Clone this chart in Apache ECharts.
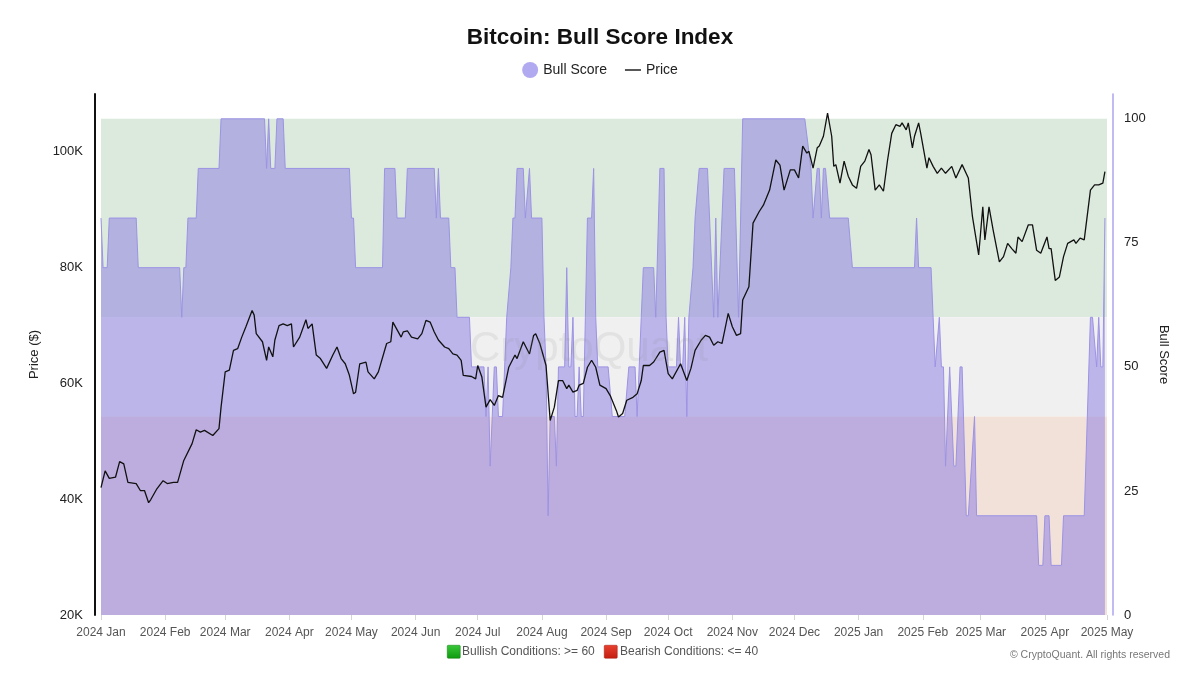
<!DOCTYPE html>
<html><head><meta charset="utf-8">
<script src="https://cdn.jsdelivr.net/npm/echarts@6/dist/echarts.min.js"></script>
<style>html,body{margin:0;padding:0;background:#fff}#c{width:1200px;height:675px}</style>
</head><body><div id="c"></div>
<script>
// ---- data (price in thousand USD) ----
const priceDates = [
'2024-01-01','2024-01-03','2024-01-05','2024-01-08','2024-01-10','2024-01-12','2024-01-14','2024-01-18','2024-01-20','2024-01-22','2024-01-24','2024-01-25','2024-01-28','2024-01-31',
'2024-02-02','2024-02-05','2024-02-07','2024-02-10','2024-02-14','2024-02-16','2024-02-18','2024-02-20','2024-02-24','2024-02-27','2024-02-28',
'2024-03-01','2024-03-03','2024-03-05','2024-03-07','2024-03-09','2024-03-11','2024-03-14','2024-03-15','2024-03-16','2024-03-19','2024-03-21','2024-03-22','2024-03-24','2024-03-25','2024-03-27','2024-03-29','2024-03-31',
'2024-04-02','2024-04-03','2024-04-06','2024-04-09','2024-04-10','2024-04-12','2024-04-14','2024-04-16','2024-04-19','2024-04-22','2024-04-24','2024-04-26','2024-04-28','2024-04-30',
'2024-05-02','2024-05-03','2024-05-05','2024-05-08','2024-05-09','2024-05-12','2024-05-14','2024-05-17','2024-05-18','2024-05-20','2024-05-21','2024-05-25','2024-05-26','2024-05-28','2024-05-30',
'2024-06-02','2024-06-04','2024-06-06','2024-06-08','2024-06-10','2024-06-12','2024-06-15','2024-06-17','2024-06-19','2024-06-21','2024-06-23','2024-06-24','2024-06-28','2024-06-30',
'2024-07-01','2024-07-03','2024-07-05','2024-07-07','2024-07-09','2024-07-11','2024-07-13','2024-07-16','2024-07-19','2024-07-20','2024-07-23','2024-07-26','2024-07-28','2024-07-29','2024-07-31',
'2024-08-03','2024-08-05','2024-08-07','2024-08-09','2024-08-11','2024-08-13','2024-08-14','2024-08-16','2024-08-18','2024-08-19','2024-08-21','2024-08-23','2024-08-25','2024-08-27','2024-08-29',
'2024-09-01','2024-09-03','2024-09-06','2024-09-07','2024-09-09','2024-09-11','2024-09-14','2024-09-16','2024-09-18','2024-09-19','2024-09-22','2024-09-24','2024-09-27','2024-09-29',
'2024-10-01','2024-10-03','2024-10-07','2024-10-10','2024-10-12','2024-10-14','2024-10-17','2024-10-19','2024-10-21','2024-10-23','2024-10-25','2024-10-27','2024-10-28','2024-10-30',
'2024-11-01','2024-11-03','2024-11-05','2024-11-06','2024-11-09','2024-11-11','2024-11-14','2024-11-16','2024-11-19','2024-11-22','2024-11-24','2024-11-26','2024-11-29',
'2024-12-01','2024-12-03','2024-12-05','2024-12-07','2024-12-08','2024-12-10','2024-12-12','2024-12-13','2024-12-15','2024-12-17','2024-12-19','2024-12-20','2024-12-21','2024-12-23','2024-12-25','2024-12-27','2024-12-29','2024-12-31',
'2025-01-02','2025-01-04','2025-01-06','2025-01-07','2025-01-09','2025-01-11','2025-01-13','2025-01-15','2025-01-17','2025-01-19','2025-01-21','2025-01-22','2025-01-24','2025-01-25','2025-01-27','2025-01-28','2025-01-30','2025-01-31',
'2025-02-03','2025-02-04','2025-02-06','2025-02-08','2025-02-10','2025-02-12','2025-02-15','2025-02-17','2025-02-20','2025-02-23','2025-02-25','2025-02-28',
'2025-03-02','2025-03-03','2025-03-05','2025-03-07','2025-03-10','2025-03-12','2025-03-14','2025-03-16','2025-03-18','2025-03-19','2025-03-21','2025-03-24','2025-03-26','2025-03-28','2025-03-30',
'2025-04-02','2025-04-03','2025-04-04','2025-04-06','2025-04-08','2025-04-10','2025-04-12','2025-04-15','2025-04-16','2025-04-18','2025-04-20','2025-04-23','2025-04-25','2025-04-27','2025-04-29','2025-04-30'
];
const priceValues = [
42.0,44.9,43.6,43.8,46.5,46.1,42.9,42.7,41.5,41.5,39.4,39.9,41.8,43.2,
42.7,42.9,42.9,46.7,49.6,52.0,51.6,51.9,51.0,52.2,55.9,
62.0,62.3,65.7,66.0,68.0,69.8,72.6,71.8,68.6,67.2,64.0,66.3,64.6,67.5,70.0,70.3,70.0,
70.3,66.3,68.0,71.0,69.5,70.3,64.9,64.3,62.6,64.9,66.3,64.3,63.4,61.4,
58.2,58.5,63.4,63.7,62.0,60.8,62.0,65.7,66.9,67.2,70.6,68.0,68.9,69.1,68.0,
67.7,68.6,70.9,70.6,68.9,67.5,66.3,66.0,65.1,64.9,64.0,61.4,61.2,60.8,
63.1,61.1,55.9,57.2,56.2,57.9,57.6,62.8,64.9,64.3,67.2,65.1,68.3,68.6,66.9,
63.1,53.6,55.9,60.5,60.5,59.1,59.7,58.5,58.8,59.7,60.0,62.8,64.0,62.8,59.7,
59.1,57.9,55.3,54.2,54.8,57.1,57.6,58.2,60.5,63.1,63.1,63.7,65.4,65.7,
61.7,60.8,63.4,60.5,62.6,65.7,67.5,68.3,68.0,66.6,67.2,66.9,68.6,72.1,
69.8,68.3,68.6,74.4,76.7,87.7,89.7,90.8,93.4,98.6,97.7,93.4,96.9,
96.9,95.5,101.0,99.8,100.1,97.2,100.7,101.0,102.7,106.7,102.7,97.5,97.8,94.6,98.4,95.8,94.3,93.7,
97.5,98.4,100.4,99.5,93.4,94.3,93.2,98.6,103.2,104.7,104.4,105.0,103.8,105.0,100.7,102.7,105.0,103.2,
97.2,99.0,97.5,96.3,97.2,96.3,97.5,95.5,97.8,95.5,88.8,82.2,
90.5,84.8,90.5,86.5,81.0,81.9,84.2,83.3,82.5,85.3,84.5,87.4,87.4,83.0,82.5,
85.3,83.3,83.3,77.8,78.4,81.9,84.2,84.8,84.2,85.1,84.8,93.4,94.3,94.3,94.6,96.6
];
const scoreDates = [
'2024-01-01','2024-01-02','2024-01-04','2024-01-05','2024-01-18','2024-01-19','2024-02-08','2024-02-09','2024-02-10','2024-02-11','2024-02-12','2024-02-16','2024-02-17','2024-02-27','2024-02-28',
'2024-03-20','2024-03-21','2024-03-22','2024-03-23','2024-03-25','2024-03-26','2024-03-29','2024-03-30','2024-04-30','2024-05-01','2024-05-02','2024-05-03','2024-05-16','2024-05-17','2024-05-22','2024-05-23','2024-05-27','2024-05-28',
'2024-06-10','2024-06-11','2024-06-12','2024-06-13','2024-06-17','2024-06-18','2024-06-20','2024-06-21','2024-06-27','2024-06-28',
'2024-07-04','2024-07-05','2024-07-06','2024-07-07','2024-07-08','2024-07-09','2024-07-10','2024-07-11','2024-07-13','2024-07-15','2024-07-17','2024-07-18','2024-07-19','2024-07-20','2024-07-23','2024-07-24','2024-07-26','2024-07-27',
'2024-08-01','2024-08-02','2024-08-03','2024-08-04','2024-08-05','2024-08-07','2024-08-08','2024-08-09','2024-08-12','2024-08-13','2024-08-14','2024-08-15','2024-08-16','2024-08-17','2024-08-18','2024-08-19','2024-08-20','2024-08-21','2024-08-22','2024-08-23','2024-08-25','2024-08-26','2024-08-27','2024-08-28',
'2024-09-02','2024-09-04','2024-09-10','2024-09-12','2024-09-15','2024-09-16','2024-09-17','2024-09-18','2024-09-19','2024-09-24','2024-09-25','2024-09-27','2024-09-29','2024-09-30',
'2024-10-01','2024-10-05','2024-10-06','2024-10-07','2024-10-08','2024-10-09','2024-10-10','2024-10-11','2024-10-13','2024-10-14','2024-10-16','2024-10-20','2024-10-23','2024-10-24','2024-10-25','2024-10-28',
'2024-11-02','2024-11-04','2024-11-06','2024-12-06','2024-12-09','2024-12-10','2024-12-12','2024-12-13','2024-12-14','2024-12-15','2024-12-16','2024-12-18','2024-12-27','2024-12-29',
'2025-01-28','2025-01-29','2025-01-30','2025-02-05','2025-02-06','2025-02-07','2025-02-09','2025-02-10','2025-02-11','2025-02-12','2025-02-14','2025-02-16','2025-02-17','2025-02-19','2025-02-20','2025-02-22','2025-02-23','2025-02-26','2025-02-27',
'2025-03-28','2025-03-29','2025-03-31','2025-04-01','2025-04-03','2025-04-04','2025-04-09','2025-04-10','2025-04-20','2025-04-23','2025-04-24','2025-04-26','2025-04-27','2025-04-28','2025-04-29','2025-04-30'
];
const scoreValues = [
80,70,70,80,80,70,70,60,70,70,80,80,90,90,100,
100,90,100,90,90,100,100,90,90,80,80,70,70,90,90,80,80,90,
90,80,90,80,80,70,70,60,60,50,
50,40,50,30,40,50,50,40,40,60,70,80,80,90,90,80,90,80,
80,60,50,20,40,40,30,50,50,70,50,50,60,40,40,50,40,40,60,80,80,90,60,50,
50,40,40,50,50,40,50,60,70,70,60,90,90,60,
50,50,60,50,50,60,40,60,70,80,90,90,60,80,60,90,
90,60,100,100,90,80,90,90,80,90,90,80,80,70,
70,80,70,70,60,50,60,50,50,30,50,30,30,50,50,20,20,40,20,
20,10,10,20,20,10,10,20,20,60,60,50,60,50,50,80
];
const priceTicks = [20, 40, 60, 80, 100];
const scoreTicks = [0, 25, 50, 75, 100];
const bandLimits = { bearish: 40, bullish: 60, top: 100 };

const priceData = priceDates.map((d, i) => [d, priceValues[i]]);
const scoreData = scoreDates.map((d, i) => [d, scoreValues[i]]);

const FONT = 'Liberation Sans, Arial, sans-serif';
const chart = echarts.init(document.getElementById('c'), null, { renderer: 'canvas' });
chart.setOption({
  animation: false,
  backgroundColor: '#ffffff',
  textStyle: { fontFamily: FONT },
  title: {
    text: 'Bitcoin: Bull Score Index', left: 'center', top: 21,
    textStyle: { fontSize: 22.5, fontWeight: 'bold', color: '#111', fontFamily: FONT }
  },
  legend: {
    top: 57, left: 'center', itemGap: 18, itemWidth: 16, itemHeight: 16,
    textStyle: { fontSize: 14, color: '#222', fontFamily: FONT },
    data: [
      { name: 'Bull Score', icon: 'circle' },
      { name: 'Price', icon: 'path://M0,0 L16,0 L16,1.4 L0,1.4 Z' }
    ]
  },
  grid: { left: 101, right: 93, top: 94, bottom: 60, containLabel: false },
  xAxis: {
    type: 'time', min: '2024-01-01', max: '2025-05-01',
    splitNumber: 16, minInterval: 28 * 86400000, maxInterval: 31 * 86400000,
    axisLine: { show: false },
    axisTick: { show: true, length: 5, lineStyle: { color: '#d5d5d5' } },
    splitLine: { show: false },
    axisLabel: { formatter: '{yyyy} {MMM}', color: '#555', fontSize: 12, margin: 12, hideOverlap: false, fontFamily: FONT }
  },
  yAxis: [
    {
      type: 'value', position: 'left', min: 20, max: 110, interval: 20, offset: 6,
      name: 'Price ($)', nameLocation: 'middle', nameGap: 54,
      nameTextStyle: { fontSize: 13, color: '#222', fontFamily: FONT },
      axisLine: { show: true, lineStyle: { color: '#111', width: 2 } },
      axisTick: { show: false }, splitLine: { show: false },
      axisLabel: { margin: 12, fontSize: 13, color: '#222', fontFamily: FONT,
        formatter: v => priceTicks.includes(v) ? v + 'K' : '' }
    },
    {
      type: 'value', position: 'right', min: 0, max: 105, interval: 25, offset: 6,
      name: 'Bull Score', nameLocation: 'middle', nameGap: 43, nameRotate: -90,
      nameTextStyle: { fontSize: 13, color: '#222', fontFamily: FONT },
      axisLine: { show: true, lineStyle: { color: '#aba4ee', width: 1.5 } },
      axisTick: { show: false }, splitLine: { show: false },
      axisLabel: { margin: 11, fontSize: 13, color: '#222', fontFamily: FONT,
        formatter: v => scoreTicks.includes(v) ? String(v) : '' }
    }
  ],
  graphic: [
    { type: 'text', left: 470, top: 328, z: 50, silent: true,
      style: { text: 'CryptoQuant', fontSize: 42, fontFamily: FONT, fill: 'rgba(140,140,140,0.14)' } },
    { type: 'rect', left: 447, top: 645, shape: { width: 13, height: 13, r: 1 },
      style: { fill: new echarts.graphic.LinearGradient(0, 0, 0, 1, [{ offset: 0, color: '#39c839' }, { offset: 1, color: '#0f9a0f' }]), stroke: '#0b7d0b', lineWidth: 0.5 } },
    { type: 'text', left: 462, top: 646, style: { text: 'Bullish Conditions: >= 60', fontSize: 12, fontFamily: FONT, fill: '#555' } },
    { type: 'rect', left: 604, top: 645, shape: { width: 13, height: 13, r: 1 },
      style: { fill: new echarts.graphic.LinearGradient(0, 0, 0, 1, [{ offset: 0, color: '#e8402f' }, { offset: 1, color: '#c41e10' }]), stroke: '#a3170c', lineWidth: 0.5 } },
    { type: 'text', left: 620, top: 646, style: { text: 'Bearish Conditions: <= 40', fontSize: 12, fontFamily: FONT, fill: '#555' } },
    { type: 'text', right: 30, top: 650, style: { text: '\u00a9 CryptoQuant. All rights reserved', fontSize: 10.5, fontFamily: FONT, fill: '#777' } }
  ],
  series: [
    {
      name: 'bands', type: 'line', yAxisIndex: 1, data: scoreData, symbol: 'none', silent: true,
      lineStyle: { opacity: 0 }, z: 1, legendHoverLink: false,
      markArea: {
        silent: true,
        data: [
          [{ yAxis: bandLimits.bullish, itemStyle: { color: '#dce9dd' } }, { yAxis: bandLimits.top }],
          [{ yAxis: bandLimits.bearish, itemStyle: { color: '#f0f0f0' } }, { yAxis: bandLimits.bullish }],
          [{ yAxis: 0, itemStyle: { color: '#f2e1d8' } }, { yAxis: bandLimits.bearish }]
        ]
      }
    },
    {
      name: 'Bull Score', type: 'line', yAxisIndex: 1, data: scoreData, symbol: 'none', z: 2,
      itemStyle: { color: '#b2aaf0' },
      lineStyle: { color: '#9c93e4', width: 1 },
      areaStyle: { color: 'rgba(136,122,228,0.5)', opacity: 1 }
    },
    {
      name: 'Price', type: 'line', yAxisIndex: 0, data: priceData, symbol: 'none', z: 3,
      itemStyle: { color: '#111' },
      lineStyle: { color: '#111', width: 1.3 }
    }
  ]
});
</script>
</body></html>
